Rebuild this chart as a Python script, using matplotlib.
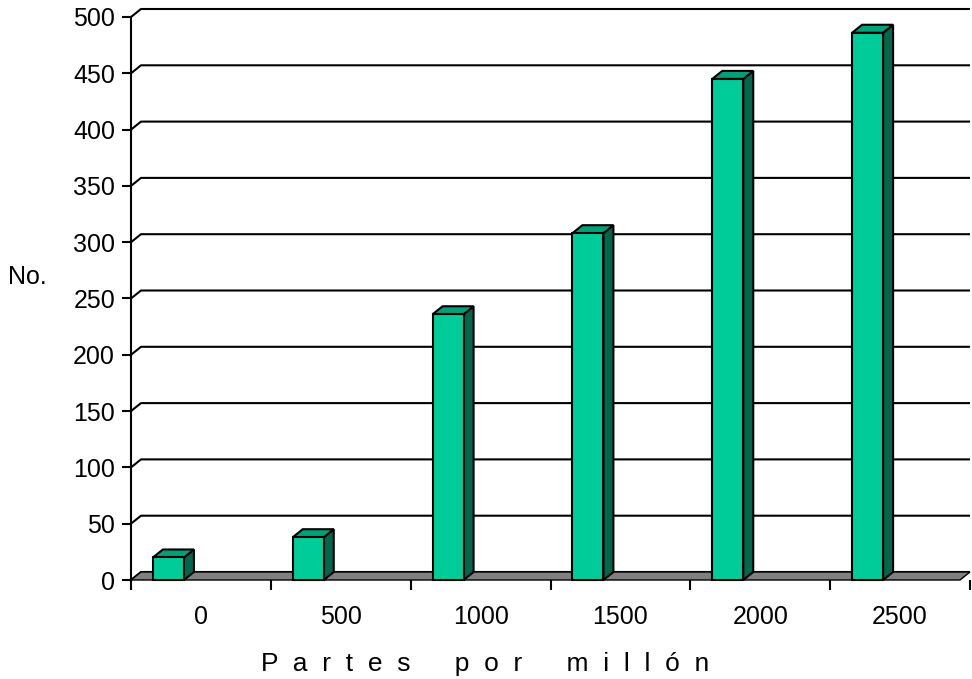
import matplotlib
matplotlib.use('Agg')
import matplotlib.pyplot as plt
from matplotlib.patches import Polygon, Rectangle

categories = ['0', '500', '1000', '1500', '2000', '2500']
values = [20, 38, 236, 308, 445, 486]
yticks = [0, 50, 100, 150, 200, 250, 300, 350, 400, 450, 500]
ylabel = 'No.'
xlabel = 'P  a  r  t  e  s      p  o  r      m  i  l  l  ó  n'

plt.rcParams['font.family'] = ['Liberation Sans', 'DejaVu Sans']

W, H = 972, 679
fig = plt.figure(figsize=(W / 100, H / 100), dpi=100)
L, R, B, T = 131, 970, 580, 17
ax = fig.add_axes([L / W, 1 - B / H, (R - L) / W, (B - T) / H])
n = len(categories)
ax.set_xlim(-0.5, n - 0.5)
ax.set_ylim(0, 500)

pxx = (R - L) / n          # px per x unit
pxy = (B - T) / 500        # px per y unit
ddx = 10 / pxx             # depth offset
ddy = 8 / pxy

front_col = '#00CC99'
top_col = '#00A078'
side_col = '#00664C'
lw = 1.5

# back-wall gridlines
for v in yticks:
    ax.plot([-0.5, -0.5 + ddx, n - 0.5], [v, v + ddy, v + ddy],
            color='black', lw=lw, clip_on=False, zorder=1, solid_capstyle='butt')

# floor
floor = Polygon([(-0.5, 0), (-0.5 + ddx, ddy), (n - 0.5, ddy), (n - 0.5 - ddx, 0)],
                closed=True, facecolor='#808080', edgecolor='black', lw=1.0,
                clip_on=False, zorder=2)
ax.add_patch(floor)

# bars
off = -48 / pxx
bw = 31 / pxx
for i, v in enumerate(values):
    x0 = i + off
    x1 = x0 + bw
    ax.add_patch(Polygon([(x1, 0), (x1 + ddx, ddy), (x1 + ddx, v + ddy), (x1, v)],
                         closed=True, facecolor=side_col, edgecolor='black', lw=lw,
                         zorder=3, clip_on=False, joinstyle='miter'))
    ax.add_patch(Polygon([(x0, v), (x0 + ddx, v + ddy), (x1 + ddx, v + ddy), (x1, v)],
                         closed=True, facecolor=top_col, edgecolor='black', lw=lw,
                         zorder=3, clip_on=False, joinstyle='miter'))
    ax.add_patch(Rectangle((x0, 0), bw, v, facecolor=front_col, edgecolor='black',
                           lw=lw, zorder=4, clip_on=False, joinstyle='miter'))

# axes styling
for s in ['top', 'right', 'bottom']:
    ax.spines[s].set_visible(False)
ax.spines['left'].set_linewidth(lw)
ax.spines['left'].set_zorder(5)

ax.set_yticks(yticks)
ax.set_yticklabels([str(t) for t in yticks], fontsize=18)
ax.tick_params(axis='y', length=6.5, width=lw, pad=5)

ax.set_xticks(range(n))
ax.set_xticklabels(categories, fontsize=18)
ax.set_xticks([i - 0.5 for i in range(n + 1)], minor=True)
ax.tick_params(axis='x', which='major', length=0, pad=18)
ax.tick_params(axis='x', which='minor', length=7, width=lw)

fig.text(8 / W, 1 - 277 / H, ylabel, fontsize=18, ha='left', va='center')
fig.text(485 / W, 1 - 664 / H, xlabel, fontsize=19, ha='center', va='center')

fig.savefig('out.png', dpi=100)
